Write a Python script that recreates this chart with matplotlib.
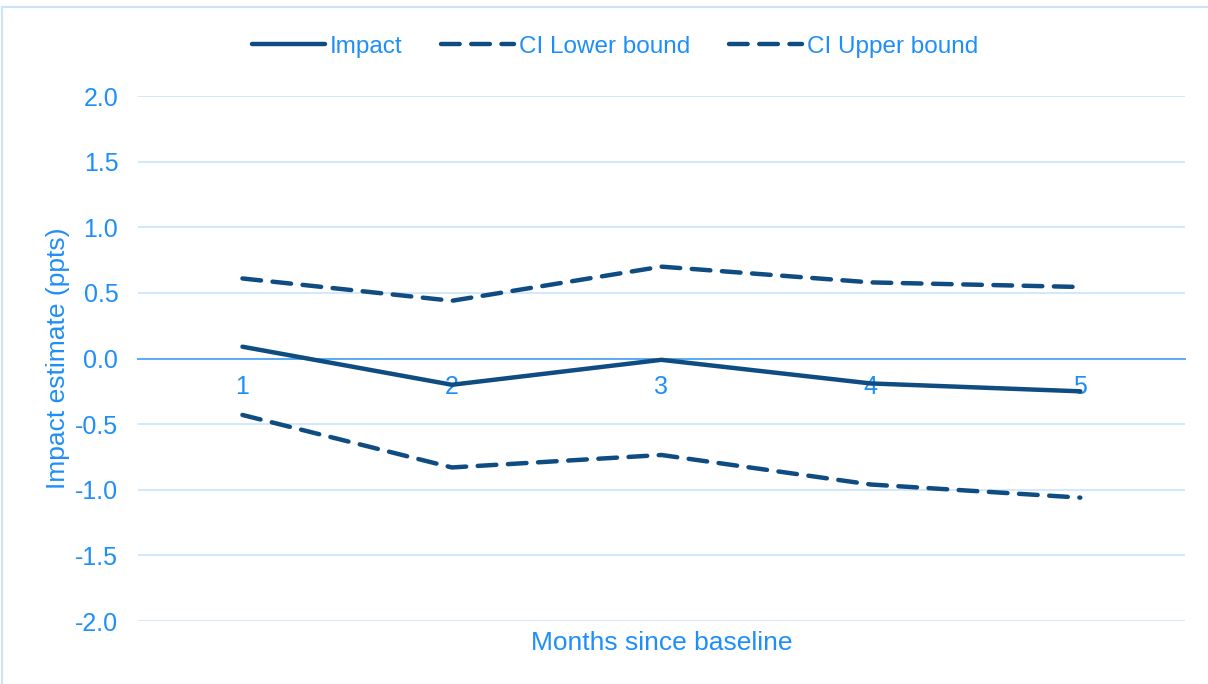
"""Impact estimate by months since baseline, with confidence bounds."""

import matplotlib

matplotlib.use("Agg")
import matplotlib.pyplot as plt  # noqa: E402
from matplotlib.patches import Rectangle  # noqa: E402

months = ["1", "2", "3", "4", "5"]
impact = [0.09, -0.20, -0.01, -0.19, -0.25]
ci_lower = [-0.43, -0.83, -0.735, -0.96, -1.06]
ci_upper = [0.61, 0.44, 0.70, 0.58, 0.545]
y_ticks = [-2.0, -1.5, -1.0, -0.5, 0.0, 0.5, 1.0, 1.5, 2.0]

LINE = "#0f4c81"
TEXT = "#1e8ff8"
GRID = "#d3e8fb"
ZERO = "#5aaaf2"

plt.rcParams["font.family"] = ["Liberation Sans", "DejaVu Sans"]

fig = plt.figure(figsize=(12.08, 6.84), dpi=100)
ax = fig.add_axes([0.114, 0.0921, 0.867, 0.7675])

x = list(range(1, len(months) + 1))
ax.plot(x, impact, color=LINE, lw=3.2, label="Impact", solid_capstyle="round", zorder=4)
ax.plot(x, ci_lower, color=LINE, lw=3.2, dashes=(4.2, 2.6), label="CI Lower bound",
        dash_capstyle="round", zorder=4)
ax.plot(x, ci_upper, color=LINE, lw=3.2, dashes=(4.2, 2.6), label="CI Upper bound",
        dash_capstyle="round", zorder=4)

ax.set_xlim(0.5, len(months) + 0.5)
ax.set_ylim(-2.0, 2.0)
ax.set_yticks(y_ticks)
ax.set_yticklabels([f"{v:.1f}" for v in y_ticks])
ax.set_xticks(x)
ax.set_xticklabels(months)

for v in y_ticks:
    if v != 0:
        ax.axhline(v, color=GRID, lw=1.4, zorder=1)

for side in ("top", "right", "left"):
    ax.spines[side].set_visible(False)
ax.spines["bottom"].set_position(("data", 0))
ax.spines["bottom"].set_color(ZERO)
ax.spines["bottom"].set_linewidth(1.4)
ax.spines["bottom"].set_zorder(2)

ax.tick_params(axis="both", length=0, labelsize=18, labelcolor=TEXT)
ax.tick_params(axis="y", pad=14)
ax.tick_params(axis="x", pad=12)

ax.set_ylabel("Impact estimate (ppts)", fontsize=19, color=TEXT, labelpad=4)
fig.text(0.5475, 0.060, "Months since baseline", fontsize=19, color=TEXT,
         ha="center", va="center")

ax.legend(loc="center", bbox_to_anchor=(0.456, 1.094), ncol=3, frameon=False,
          fontsize=17.5, labelcolor=TEXT, handlelength=3.0, handletextpad=0.2,
          columnspacing=1.6)

# thin light-blue frame around the whole chart
fig.patches.append(Rectangle((2 / 1208, -0.05), 1.1, 1.05 - 7 / 684,
                             transform=fig.transFigure, fill=False,
                             edgecolor="#cfe3f7", lw=1.5))

fig.savefig("out.png", dpi=100)
